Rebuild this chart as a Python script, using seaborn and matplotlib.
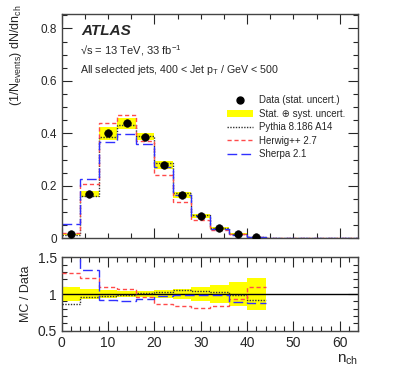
import numpy as np
import matplotlib
matplotlib.use('Agg')
import matplotlib.pyplot as plt
from matplotlib.ticker import MultipleLocator
from matplotlib.patches import Patch
from matplotlib.lines import Line2D
import seaborn as sns

# n_ch bins (width 4)
edges = [0, 4, 8, 12, 16, 20, 24, 28, 32, 36, 40, 44, 48, 52, 56, 60, 64]
data_centers = [2, 6, 10, 14, 18, 22, 26, 30, 34, 38, 42]
data_vals = [0.016, 0.169, 0.400, 0.438, 0.387, 0.279, 0.166, 0.086, 0.038, 0.016, 0.004]
# relative stat (+) syst uncertainty
data_unc = [0.10, 0.07, 0.06, 0.045, 0.035, 0.05, 0.07, 0.09, 0.12, 0.16, 0.22]

pythia = [0.0138, 0.1622, 0.3880, 0.4336, 0.3909, 0.2874, 0.1743, 0.0894, 0.0388, 0.0158, 0.0037,
          0.0012, 0.0004, 0.0001, 0.00005, 0.00002]
herwig = [0.0206, 0.2062, 0.4400, 0.4687, 0.3715, 0.2427, 0.1378, 0.0697, 0.0319, 0.0150, 0.0044,
          0.0014, 0.0005, 0.0002, 0.00008, 0.00003]
sherpa = [0.0560, 0.2248, 0.3680, 0.3986, 0.3599, 0.2706, 0.1643, 0.0851, 0.0374, 0.0142, 0.0035,
          0.0011, 0.0004, 0.0001, 0.00005, 0.00002]

mc_names = ['Pythia 8.186 A14', 'Herwig++ 2.7', 'Sherpa 2.1']
mc_colors = ['#333333', '#ff4a4a', '#3030ff']
mc_styles = [(0, (1, 1)), (0, (3, 2)), (0, (7, 3))]

sns.set_style('ticks')
plt.rcParams['font.family'] = ['Liberation Sans', 'DejaVu Sans']
plt.rcParams['mathtext.fontset'] = 'custom'
plt.rcParams['mathtext.rm'] = 'Liberation Sans'
plt.rcParams['mathtext.it'] = 'Liberation Sans:italic'

fig = plt.figure(figsize=(3.99, 3.79), dpi=100)
ax = fig.add_axes([0.1546, 0.3712, 0.7435, 0.5918])
axr = fig.add_axes([0.1546, 0.1274, 0.7435, 0.1937])

dv = np.array(data_vals)
du = np.array(data_unc)
n_data = len(data_vals)

# --- main panel
ax.bar(data_centers, 2 * dv * du, bottom=dv * (1 - du), width=4, color='#ffff00', lw=0, zorder=1)
for vals, c, ls in zip([pythia, herwig, sherpa], mc_colors, mc_styles):
    ax.stairs(vals, edges, baseline=None, color=c, linestyle=ls, lw=1.0, zorder=2)
sns.scatterplot(x=data_centers, y=data_vals, ax=ax, color='black', s=30, edgecolor='black', zorder=3)

ax.set_xlim(0, 64)
ax.set_ylim(0, 0.855)
ax.xaxis.set_major_locator(MultipleLocator(20))
ax.xaxis.set_minor_locator(MultipleLocator(5))
ax.yaxis.set_minor_locator(MultipleLocator(0.05))
ax.set_yticks([0, 0.2, 0.4, 0.6, 0.8], ['0', '0.2', '0.4', '0.6', '0.8'])
ax.tick_params(axis='x', labelbottom=False)

ax.text(0.065, 0.925, 'ATLAS', transform=ax.transAxes, fontsize=11, fontweight='bold',
        fontstyle='italic', va='center')
ax.text(0.062, 0.835, '√s = 13 TeV, 33 fb$^{-1}$', transform=ax.transAxes, fontsize=8, va='center')
ax.text(0.062, 0.75, 'All selected jets, 400 < Jet p$_{\\mathrm{T}}$ / GeV < 500',
        transform=ax.transAxes, fontsize=7.7, va='center')

handles = [
    Line2D([], [], marker='o', color='black', ls='none', markersize=5),
    Patch(facecolor='#ffff00', edgecolor='none'),
] + [Line2D([], [], color=c, linestyle=ls, lw=1.0) for c, ls in zip(mc_colors, mc_styles)]
labels = ['Data (stat. uncert.)', 'Stat. ⊕ syst. uncert.'] + mc_names
ax.legend(handles, labels, loc='upper left', bbox_to_anchor=(0.545, 0.655), frameon=False,
          fontsize=7, handlelength=2.6, handletextpad=0.7, labelspacing=0.35, borderaxespad=0)

fig.text(0.04, 0.988, '(1/N$_{\\mathrm{events}}$) dN/dn$_{\\mathrm{ch}}$', rotation=90,
         ha='center', va='top', fontsize=9)

# --- ratio panel
axr.bar(data_centers, 2 * du, bottom=1 - du, width=4, color='#ffff00', lw=0, zorder=1)
axr.axhline(1.0, color='black', lw=1.0, zorder=2)
for vals, c, ls in zip([pythia, herwig, sherpa], mc_colors, mc_styles):
    ratio = np.array(vals[:n_data]) / dv
    axr.stairs(ratio, edges[:n_data + 1], baseline=None, color=c, linestyle=ls, lw=1.0, zorder=3)

axr.set_xlim(0, 64)
axr.set_ylim(0.5, 1.5)
axr.xaxis.set_major_locator(MultipleLocator(10))
axr.xaxis.set_minor_locator(MultipleLocator(2))
axr.set_yticks([0.5, 1.0, 1.5], ['0.5', '1', '1.5'])
axr.yaxis.set_minor_locator(MultipleLocator(0.1))
axr.set_ylabel('MC / Data', fontsize=9, labelpad=4)
axr.set_xlabel('n$_{\\mathrm{ch}}$', fontsize=11, loc='right', labelpad=2)

for a, fs in [(ax, 8.5), (axr, 10)]:
    a.tick_params(which='both', direction='in', top=True, right=True, labelsize=fs, width=0.8)
    a.tick_params(which='major', length=7)
    a.tick_params(which='minor', length=3.5)
    for s in a.spines.values():
        s.set_linewidth(1.0)
        s.set_color('#444444')

fig.savefig('out.png', dpi=100)
